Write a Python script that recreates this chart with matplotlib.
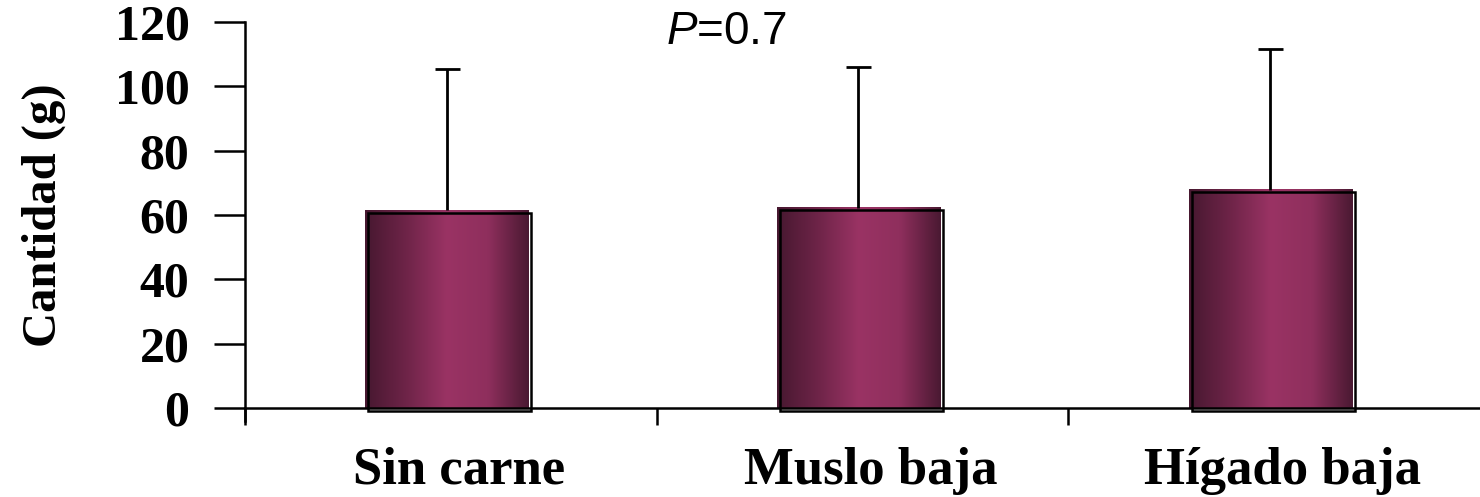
import numpy as np
import matplotlib.pyplot as plt
import matplotlib.transforms as mtransforms
from matplotlib.colors import LinearSegmentedColormap
from matplotlib.patches import Rectangle

# Datos
grupos = ["Sin carne", "Muslo baja", "Hígado baja"]
medias = [61.5, 62.2, 67.8]
de = [43.9, 43.8, 43.8]
p_valor = "0.7"

plt.rcParams['mathtext.fontset'] = 'custom'
plt.rcParams['mathtext.it'] = 'Liberation Sans:italic'
plt.rcParams['mathtext.rm'] = 'Liberation Sans'

fig = plt.figure(figsize=(14.8, 4.97), dpi=100)
ax = fig.add_axes([0.1655, 0.179, 0.8345, 0.777])

# degradado oscuro-claro-oscuro para las barras
cmap = LinearSegmentedColormap.from_list(
    "vino", ["#471830", "#6e2448", "#9a3364", "#8f2f5d", "#4a1932"])
grad = np.linspace(0, 1, 256).reshape(1, -1)

ancho = 0.396
x = np.arange(len(grupos)) - 0.01
for xi, m in zip(x, medias):
    ax.imshow(grad, cmap=cmap, aspect="auto", interpolation="bicubic",
              extent=(xi - ancho / 2, xi + ancho / 2, 0, m), zorder=2)
    # marco desplazado (sombra)
    desplaz = mtransforms.offset_copy(ax.transData, fig=fig, x=3, y=-2.5, units="dots")
    ax.add_patch(Rectangle((xi - ancho / 2, 0), ancho, m, fill=False,
                           edgecolor="black", linewidth=1.8,
                           transform=desplaz, zorder=3, clip_on=False))

_, caps, _ = ax.errorbar(x, medias, yerr=[np.zeros(len(de)), de], fmt="none",
                         ecolor="black", elinewidth=2, capsize=9, capthick=2,
                         zorder=4)
caps[0].set_visible(False)  # sin tapa inferior

ax.set_xlim(-0.5, 2.5)
ax.set_ylim(0, 120)
ax.set_yticks(range(0, 121, 20))
ax.set_xticks([-0.5, 0.5, 1.5])
ax.set_xticklabels([])
ax.set_xticks(np.arange(len(grupos)) + 0.02, minor=True)
ax.set_xticklabels(grupos, minor=True, fontsize=38, fontweight="bold",
                   family="Liberation Serif")
ax.tick_params(axis="x", which="minor", length=0, pad=28)
ax.tick_params(axis="x", which="major", length=12, width=1.8, direction="out")
ax.tick_params(axis="y", length=22, width=1.8, pad=18)
for lab in ax.get_yticklabels():
    lab.set_fontsize(36)
    lab.set_fontweight("bold")
    lab.set_family("Liberation Serif")

for s in ["top", "right"]:
    ax.spines[s].set_visible(False)
ax.spines["left"].set_linewidth(1.8)
ax.spines["bottom"].set_linewidth(1.8)
ax.spines["left"].set_bounds(-4, 120)

ax.yaxis.set_label_coords(-0.145, 0.51)
ax.set_ylabel("Cantidad (g)", fontsize=35, fontweight="bold",
              family="Liberation Serif")

fig.text(0.491, 0.936, r"$\it{P}$=" + p_valor, fontsize=33, ha="center",
         va="center", family="Liberation Sans")

fig.savefig("out.png", dpi=100)
